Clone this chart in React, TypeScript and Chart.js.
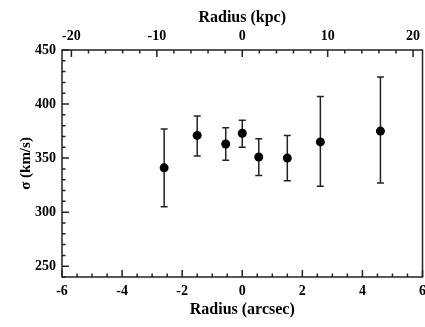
import React, { useEffect, useRef } from "react";
import { Chart, registerables } from "chart.js";

Chart.register(...registerables);

// ---- data ----
const RADIUS_ARCSEC = [-2.6, -1.5, -0.55, 0, 0.55, 1.5, 2.6, 4.6];
const SIGMA = [341, 371, 363, 373, 351, 350, 365, 375];
const SIGMA_HI = [377, 389, 378, 385, 368, 371, 407, 425];
const SIGMA_LO = [305, 352, 348, 360, 334, 329, 324, 327];

const X_TICKS = [-6, -4, -2, 0, 2, 4, 6];
const TOP_TICKS = [-20, -10, 0, 10, 20];
const Y_TICKS = [250, 300, 350, 400, 450];
const X_RANGE = [-6, 6];
const KPC_RANGE = [-21.1, 21.1];
const Y_RANGE = [240, 450];
const X_MINOR = 0.5;
const TOP_MINOR = 2;
const Y_MINOR = 10;

const FONT = "'Liberation Serif', 'Times New Roman', serif";
const INK = "#000";
const LINE = "#222";

const framePlugin = {
  id: "frameTicks",
  beforeDatasetsDraw(chart: any) {
    const ctx = chart.ctx;
    const xs = chart.scales.x;
    const ys = chart.scales.y;
    ctx.save();
    ctx.strokeStyle = LINE;
    ctx.lineWidth = 1.5;
    for (let i = 0; i < RADIUS_ARCSEC.length; i++) {
      const px = xs.getPixelForValue(RADIUS_ARCSEC[i]);
      const hi = ys.getPixelForValue(SIGMA_HI[i]);
      const lo = ys.getPixelForValue(SIGMA_LO[i]);
      ctx.beginPath();
      ctx.moveTo(px, hi);
      ctx.lineTo(px, lo);
      ctx.moveTo(px - 3.5, hi);
      ctx.lineTo(px + 3.5, hi);
      ctx.moveTo(px - 3.5, lo);
      ctx.lineTo(px + 3.5, lo);
      ctx.stroke();
    }
    ctx.restore();
  },
  afterDatasetsDraw(chart: any) {
    const ctx = chart.ctx;
    const { left, right, top, bottom } = chart.chartArea;
    const xs = chart.scales.x;
    const x2 = chart.scales.x2;
    const ys = chart.scales.y;
    ctx.save();
    ctx.strokeStyle = LINE;
    ctx.lineWidth = 1.5;
    ctx.strokeRect(left, top, right - left, bottom - top);
    ctx.beginPath();
    const MAJ = 7;
    const MIN = 3.5;
    for (let v = X_RANGE[0]; v <= X_RANGE[1] + 1e-9; v += X_MINOR) {
      const isMaj = X_TICKS.some((t) => Math.abs(t - v) < 1e-6);
      const p = xs.getPixelForValue(v);
      ctx.moveTo(p, bottom);
      ctx.lineTo(p, bottom - (isMaj ? MAJ : MIN));
    }
    const kStart = Math.ceil(KPC_RANGE[0] / TOP_MINOR) * TOP_MINOR;
    for (let v = kStart; v <= KPC_RANGE[1] + 1e-9; v += TOP_MINOR) {
      const isMaj = TOP_TICKS.some((t) => Math.abs(t - v) < 1e-6);
      const p = x2.getPixelForValue(v);
      ctx.moveTo(p, top);
      ctx.lineTo(p, top + (isMaj ? MAJ : MIN));
    }
    for (let v = Y_RANGE[0]; v <= Y_RANGE[1] + 1e-9; v += Y_MINOR) {
      const isMaj = Y_TICKS.some((t) => Math.abs(t - v) < 1e-6);
      const p = ys.getPixelForValue(v);
      ctx.moveTo(left, p);
      ctx.lineTo(left + (isMaj ? MAJ : MIN), p);
    }
    ctx.stroke();
    ctx.restore();
  },
};

const tickFont = { family: FONT, weight: "bold" as const, size: 14 };
const titleFont = { family: FONT, weight: "bold" as const, size: 16 };

export default function App() {
  const ref = useRef<HTMLCanvasElement | null>(null);
  useEffect(() => {
    document.body.style.margin = "0";
    const canvas = ref.current;
    if (!canvas) return;
    const chart = new Chart(canvas, {
      type: "scatter",
      data: {
        datasets: [
          {
            data: RADIUS_ARCSEC.map((x, i) => ({ x, y: SIGMA[i] })),
            xAxisID: "x",
            yAxisID: "y",
            pointRadius: 4.5,
            pointBorderWidth: 0,
            backgroundColor: INK,
            borderColor: INK,
            clip: false,
          },
        ],
      },
      options: {
        animation: false,
        responsive: false,
        devicePixelRatio: 1,
        layout: { autoPadding: false, padding: { left: 0, right: 2.5, top: 0, bottom: 0 } },
        plugins: { legend: { display: false }, tooltip: { enabled: false } },
        scales: {
          x: {
            type: "linear",
            position: "bottom",
            min: X_RANGE[0],
            max: X_RANGE[1],
            afterBuildTicks: (s: any) => {
              s.ticks = X_TICKS.map((v) => ({ value: v }));
            },
            afterFit: (s: any) => {
              s.height = 50;
              s.paddingLeft = 0;
              s.paddingRight = 0;
            },
            grid: { display: false, drawTicks: false },
            border: { display: false },
            ticks: { font: tickFont, color: INK, padding: 6, maxRotation: 0, autoSkip: false },
            title: { display: true, text: "Radius (arcsec)", font: titleFont, color: INK, padding: { top: 0, bottom: 8 } },
          },
          x2: {
            type: "linear",
            position: "top",
            min: KPC_RANGE[0],
            max: KPC_RANGE[1],
            afterBuildTicks: (s: any) => {
              s.ticks = TOP_TICKS.map((v) => ({ value: v }));
            },
            afterFit: (s: any) => {
              s.height = 50;
              s.paddingLeft = 0;
              s.paddingRight = 0;
            },
            grid: { display: false, drawTicks: false },
            border: { display: false },
            ticks: { font: tickFont, color: INK, padding: 5, maxRotation: 0, autoSkip: false },
            title: { display: true, text: "Radius (kpc)", font: titleFont, color: INK, padding: { top: 8, bottom: 0 } },
          },
          y: {
            type: "linear",
            position: "left",
            min: Y_RANGE[0],
            max: Y_RANGE[1],
            afterBuildTicks: (s: any) => {
              s.ticks = Y_TICKS.map((v) => ({ value: v }));
            },
            afterFit: (s: any) => {
              s.width = 62;
              s.paddingTop = 0;
              s.paddingBottom = 0;
              s.paddingLeft = 0;
              s.paddingRight = 0;
            },
            grid: { display: false, drawTicks: false },
            border: { display: false },
            ticks: { font: tickFont, color: INK, padding: 6, autoSkip: false },
            title: { display: true, text: "σ (km/s)", font: { family: FONT, weight: "bold" as const, size: 15 }, color: INK, padding: { top: 17, bottom: 0 } },
          },
        },
      },
      plugins: [framePlugin],
    } as any);
    return () => chart.destroy();
  }, []);
  return (
    <div style={{ width: 425, height: 327 }}>
      <canvas ref={ref} width={425} height={327} style={{ display: "block" }} />
    </div>
  );
}
